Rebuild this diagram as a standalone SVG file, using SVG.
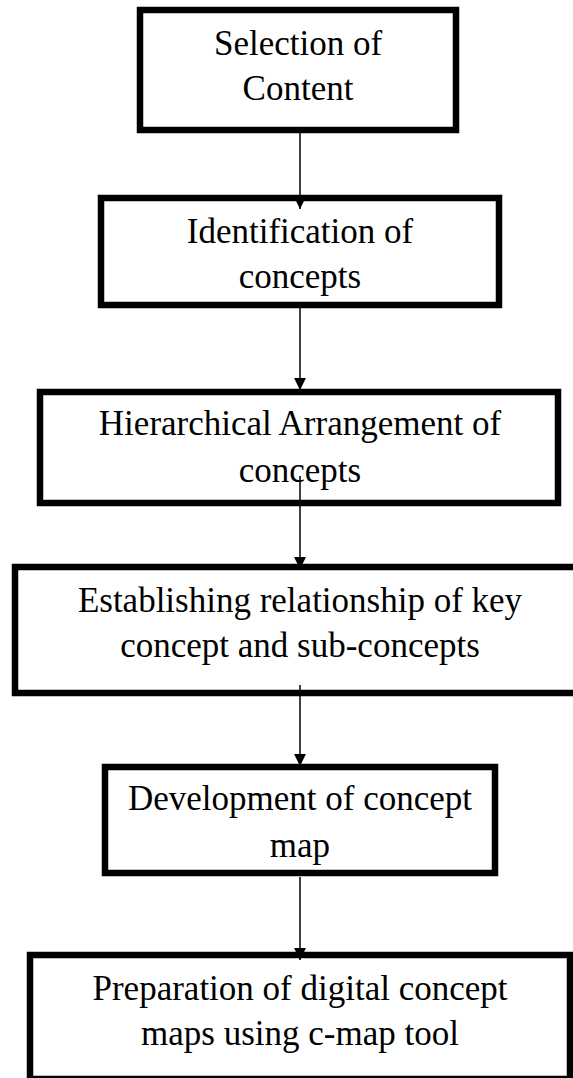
<svg xmlns="http://www.w3.org/2000/svg" width="573" height="1078" viewBox="0 0 573 1078">
  <style>
    .box { fill: #ffffff; stroke: #000000; stroke-width: 6.5; }
    .label { font-family: "Liberation Serif", "Times New Roman", serif; font-size: 35px; fill: #000000; text-anchor: middle; }
    .link { stroke: #000000; stroke-width: 1.5; fill: none; marker-end: url(#head); }
  </style>
  <defs>
    <marker id="head" viewBox="0 0 12 12" refX="12" refY="6" markerWidth="12" markerHeight="12" markerUnits="userSpaceOnUse" orient="auto">
      <path d="M0,0 L12,6 L0,12 Z" fill="#000000"/>
    </marker>
  </defs>

  <rect width="573" height="1078" fill="#ffffff"/>

  <g id="node-selection">
    <rect class="box" x="140" y="10" width="316" height="120"/>
    <text class="label" x="298" y="55">Selection of</text>
    <text class="label" x="298" y="100">Content</text>
  </g>

  <g id="node-identification">
    <rect class="box" x="101" y="198" width="398" height="107"/>
    <text class="label" x="300" y="243">Identification of</text>
    <text class="label" x="300" y="288">concepts</text>
  </g>

  <g id="node-hierarchy">
    <rect class="box" x="40" y="392" width="518" height="111"/>
    <text class="label" x="300" y="435">Hierarchical Arrangement of</text>
    <text class="label" x="300" y="482">concepts</text>
  </g>

  <g id="node-relationship">
    <rect class="box" x="15" y="567" width="580" height="126"/>
    <text class="label" x="300" y="612">Establishing relationship of key</text>
    <text class="label" x="300" y="657">concept and sub-concepts</text>
  </g>

  <g id="node-development">
    <rect class="box" x="105" y="767" width="390" height="106"/>
    <text class="label" x="300" y="810">Development of concept</text>
    <text class="label" x="300" y="857">map</text>
  </g>

  <g id="node-preparation">
    <rect class="box" x="30" y="955" width="540" height="124"/>
    <text class="label" x="300" y="1000">Preparation of digital concept</text>
    <text class="label" x="300" y="1045">maps using c-map tool</text>
  </g>

  <g id="connectors">
    <line class="link" x1="300" y1="133" x2="300" y2="209"/>
    <line class="link" x1="300" y1="308" x2="300" y2="390"/>
    <line class="link" x1="300" y1="476" x2="300" y2="569"/>
    <line class="link" x1="300" y1="685" x2="300" y2="766"/>
    <line class="link" x1="300" y1="877" x2="300" y2="960"/>
  </g>
</svg>
